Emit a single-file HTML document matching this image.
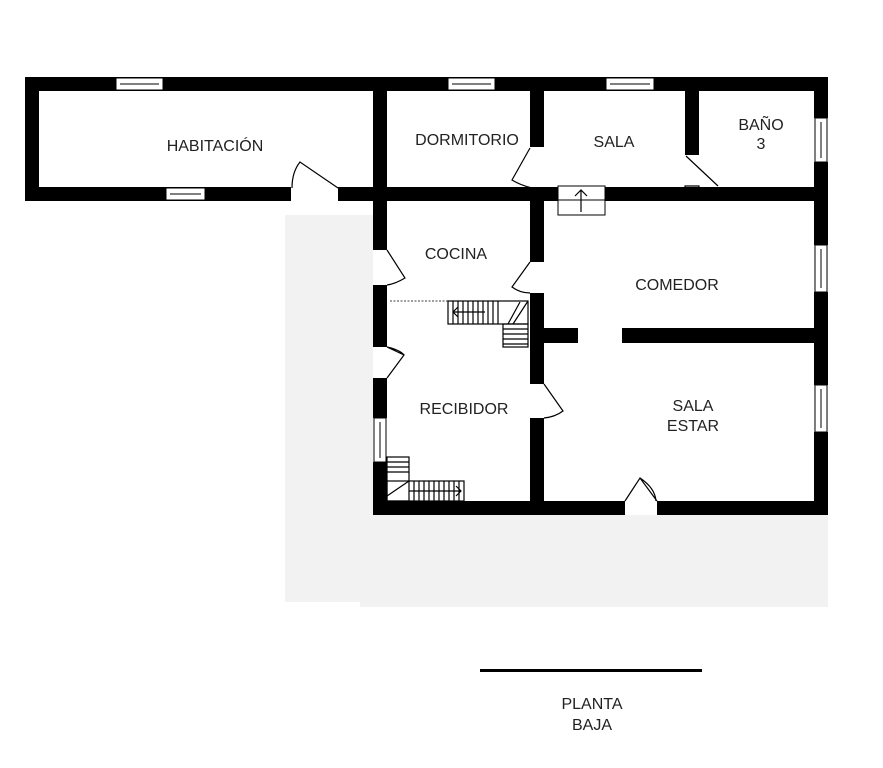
<!DOCTYPE html>
<html><head><style>body{margin:0;background:#fff}svg{display:block}text{font-family:"Liberation Sans",sans-serif;font-size:16px;fill:#222;text-anchor:middle}</style></head><body>
<svg width="883" height="768" viewBox="0 0 883 768">
<rect x="285" y="215" width="543" height="387" fill="#f2f2f2"/>
<rect x="360" y="590" width="468" height="17" fill="#f2f2f2"/>
<rect x="373" y="91" width="441" height="424" fill="#fff"/>
<rect x="39" y="91" width="334" height="96" fill="#fff"/>
<g fill="#000">
<rect x="25" y="77" width="803" height="14"/>
<rect x="25" y="77" width="14" height="124"/>
<rect x="25" y="187" width="266" height="14"/>
<rect x="338" y="187" width="490" height="14"/>
<rect x="373" y="77" width="14" height="173"/>
<rect x="373" y="285" width="14" height="62"/>
<rect x="373" y="378" width="14" height="40"/>
<rect x="373" y="462" width="14" height="53"/>
<rect x="373" y="501" width="252" height="14"/>
<rect x="657" y="501" width="171" height="14"/>
<rect x="814" y="77" width="14" height="41"/>
<rect x="814" y="162" width="14" height="83"/>
<rect x="814" y="292" width="14" height="93"/>
<rect x="814" y="432" width="14" height="83"/>
<rect x="530" y="91" width="14" height="56"/>
<rect x="530" y="187" width="14" height="75"/>
<rect x="530" y="293" width="14" height="91"/>
<rect x="530" y="418" width="14" height="83"/>
<rect x="685" y="91" width="14" height="64"/>
<rect x="544" y="328" width="34" height="15"/>
<rect x="622" y="328" width="192" height="15"/>
</g>
<g fill="#fff" stroke="#000" stroke-width="1">
<rect x="116" y="78" width="47" height="12"/><line x1="120" y1="84" x2="159" y2="84"/>
<rect x="448" y="78" width="47" height="12"/><line x1="452" y1="84" x2="491" y2="84"/>
<rect x="606" y="78" width="48" height="12"/><line x1="610" y1="84" x2="650" y2="84"/>
<rect x="166" y="188" width="39" height="12"/><line x1="170" y1="194" x2="201" y2="194"/>
<rect x="815" y="118" width="12" height="44"/><line x1="821" y1="122" x2="821" y2="158"/>
<rect x="815" y="245" width="12" height="47"/><line x1="821" y1="249" x2="821" y2="288"/>
<rect x="815" y="385" width="12" height="47"/><line x1="821" y1="389" x2="821" y2="428"/>
<rect x="374" y="418" width="12" height="44"/><line x1="380" y1="422" x2="380" y2="458"/>
<rect x="558" y="186" width="47" height="29"/><line x1="558" y1="200" x2="605" y2="200"/>
</g>
<g fill="none" stroke="#000" stroke-width="1.2">
<path d="M581 212 V190 M575 196 L581 190 L587 196"/>
<path d="M338 188 L300 162 Q292 172 292 188"/>
<path d="M530 148 L512 180 Q520 185 532 188"/>
<path d="M686 156 L718 186 M685 186 H699 V192 H685Z"/>
<path d="M387 250 L405 278 Q395 284 387 285"/>
<path d="M530 262 L512 287 Q520 293 530 293"/>
<path d="M387 347 L404 355 L387 378 M387 347 Q400 350 404 355"/>
<path d="M544 384 L563 411 Q555 417 544 418"/>
<path d="M625 501 L640 478 L657 501 M640 478 Q655 488 656 501"/>
<path d="M390 301 H448" stroke-dasharray="2,1.5" stroke-width="0.8"/>
<rect x="448" y="301" width="80" height="23"/>
<rect x="503" y="324" width="25" height="23"/>
<path d="M453 301 V324 M458 301 V324 M463 301 V324 M468 301 V324 M473 301 V324 M478 301 V324 M483 301 V324 M488 301 V324 M493 301 V324 M498 301 V324 M503 329 H528 M503 334 H528 M503 339 H528 M503 344 H528 M513 324 L528 301 M508 324 L520 302 M453 312 H485 M458 307 L453 312 L458 317"/>
<rect x="387" y="457" width="22" height="44"/>
<rect x="387" y="481" width="77" height="20"/>
<path d="M387 462 H409 M387 467 H409 M387 472 H409 M414 481 V501 M419 481 V501 M424 481 V501 M429 481 V501 M434 481 V501 M439 481 V501 M444 481 V501 M449 481 V501 M454 481 V501 M459 481 V501 M387 496 L409 481 M409 491 H461 M456 486 L461 491 L456 496"/>
</g>
<rect x="480" y="669" width="222" height="3" fill="#000"/>
<text x="215" y="151">HABITACIÓN</text>
<text x="467" y="145">DORMITORIO</text>
<text x="614" y="147">SALA</text>
<text x="761" y="130">BAÑO</text><text x="761" y="149">3</text>
<text x="456" y="259">COCINA</text>
<text x="677" y="290">COMEDOR</text>
<text x="464" y="414">RECIBIDOR</text>
<text x="693" y="411">SALA</text><text x="693" y="431">ESTAR</text>
<text x="592" y="709">PLANTA</text><text x="592" y="730">BAJA</text>
</svg></body></html>
